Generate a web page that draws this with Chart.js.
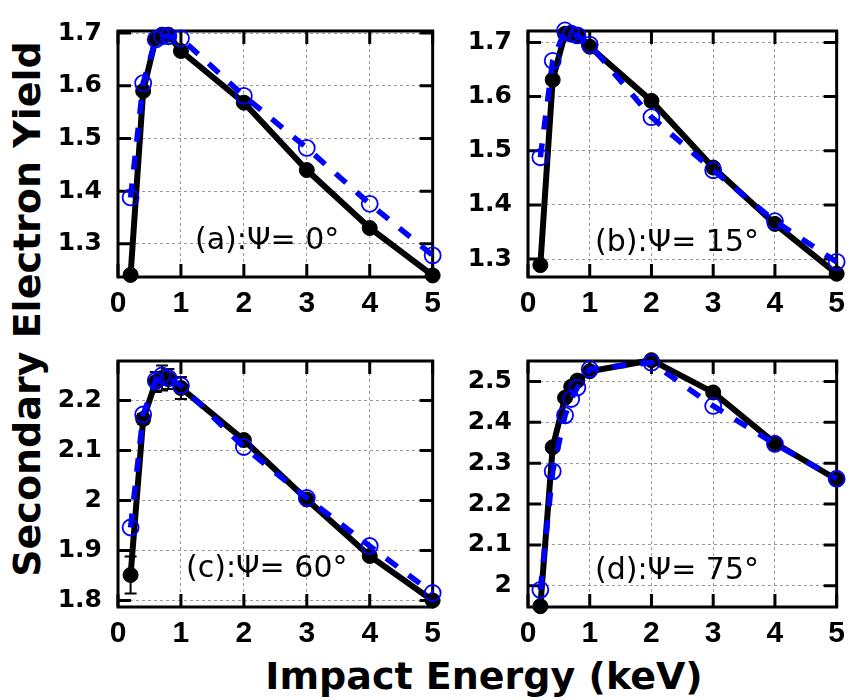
<!DOCTYPE html>
<html>
<head>
    <title>Secondary Electron Yield vs Impact Energy</title>
    <style>
        body { margin: 0; width: 854px; height: 700px; background: #fff; overflow: hidden; position: relative; font-family: "DejaVu Sans", sans-serif; }
        .panel { position: absolute; }
        #yTitle { position: absolute; left: 27px; top: 309px; transform: translate(-50%, -50%) rotate(-90deg); white-space: nowrap; font: bold 38px "DejaVu Sans"; }
        #xTitle { position: absolute; left: 184px; width: 600px; top: 657px; text-align: center; white-space: nowrap; font: bold 38px "DejaVu Sans"; line-height: 1; }
    </style>
    <script src="https://cdn.jsdelivr.net/npm/chart.js"></script>
</head>
<body>

    <canvas class="panel" id="panelA" width="400" height="320" style="left:50px; top:0px;"></canvas>
    <canvas class="panel" id="panelB" width="394" height="320" style="left:460px; top:0px;"></canvas>
    <canvas class="panel" id="panelC" width="400" height="320" style="left:50px; top:330px;"></canvas>
    <canvas class="panel" id="panelD" width="394" height="320" style="left:460px; top:330px;"></canvas>
    <div id="yTitle">Secondary Electron Yield</div>
    <div id="xTitle">Impact Energy (keV)</div>

    <script>
        // impact energies (keV), shared by every panel
        const energy = [0.2, 0.4, 0.6, 0.7, 0.8, 1, 2, 3, 4, 5];
        const xTicks = [0, 1, 2, 3, 4, 5];

        // (a) psi = 0
        const solidA  = [1.241, 1.590, 1.690, 1.697, 1.697, 1.666, 1.568, 1.440, 1.330, 1.240];
        const dashedA = [1.388, 1.605, 1.688, 1.694, 1.694, 1.690, 1.581, 1.482, 1.376, 1.278];
        const yTicksA = [1.3, 1.4, 1.5, 1.6, 1.7];

        // (b) psi = 15
        const solidB  = [1.289, 1.631, 1.716, 1.717, 1.712, 1.692, 1.592, 1.469, 1.365, 1.273];
        const dashedB = [1.488, 1.666, 1.722, 1.716, 1.713, 1.696, 1.562, 1.464, 1.370, 1.295];
        const yTicksB = [1.3, 1.4, 1.5, 1.6, 1.7];

        // (c) psi = 60, solid series has error bars
        const solidC  = [1.851, 2.163, 2.237, 2.245, 2.243, 2.225, 2.121, 2.002, 1.889, 1.800];
        const dashedC = [1.946, 2.172, 2.240, 2.250, 2.245, 2.230, 2.107, 2.005, 1.909, 1.815];
        const errorC  = [0.037, 0.010, 0.020, 0.025, 0.020, 0.022, 0, 0, 0, 0];
        const yTicksC = [1.8, 1.9, 2, 2.1, 2.2];

        // (d) psi = 75
        const solidD  = [1.950, 2.339, 2.460, 2.487, 2.502, 2.525, 2.552, 2.473, 2.349, 2.260];
        const dashedD = [1.990, 2.280, 2.417, 2.457, 2.485, 2.530, 2.546, 2.440, 2.347, 2.262];
        const yTicksD = [2, 2.1, 2.2, 2.3, 2.4, 2.5];

        const panels = [
            { canvas: 'panelA', solid: solidA, dashed: dashedA, yTicks: yTicksA, yMin: 1.237, yMax: 1.704, label: '(a):\u03A8= 0\u00B0',  dx: 77, dy: 36, padTop: 23, padRight: 13 },
            { canvas: 'panelB', solid: solidB, dashed: dashedB, yTicks: yTicksB, yMin: 1.267, yMax: 1.721, label: '(b):\u03A8= 15\u00B0', dx: 67, dy: 34, padTop: 23, padRight: 6 },
            { canvas: 'panelC', solid: solidC, dashed: dashedC, yTicks: yTicksC, yMin: 1.787, yMax: 2.279, label: '(c):\u03A8= 60\u00B0', dx: 68, dy: 38, padTop: 22, padRight: 12, errors: errorC },
            { canvas: 'panelD', solid: solidD, dashed: dashedD, yTicks: yTicksD, yMin: 1.948, yMax: 2.550, label: '(d):\u03A8= 75\u00B0', dx: 67, dy: 36, padTop: 22, padRight: 6 }
        ];

        // gnuplot-like frame: thick border, inward ticks on all sides, panel label, error bars
        const framePlugin = {
            id: 'frame',
            beforeDatasetsDraw(chart, args, opts) {
                const { ctx, chartArea: a, scales: { x, y } } = chart;
                ctx.save();
                ctx.strokeStyle = '#000';
                ctx.lineWidth = 3;
                ctx.strokeRect(a.left, a.top, a.right - a.left, a.bottom - a.top);
                const len = 13;
                ctx.beginPath();
                x.ticks.forEach(t => {
                    const px = x.getPixelForValue(t.value);
                    ctx.moveTo(px, a.bottom); ctx.lineTo(px, a.bottom - len);
                    ctx.moveTo(px, a.top); ctx.lineTo(px, a.top + len);
                });
                y.ticks.forEach(t => {
                    const py = y.getPixelForValue(t.value);
                    ctx.moveTo(a.left, py); ctx.lineTo(a.left + len, py);
                    ctx.moveTo(a.right, py); ctx.lineTo(a.right - len, py);
                });
                ctx.stroke();

                ctx.fillStyle = '#000';
                ctx.font = '30px "DejaVu Sans"';
                ctx.textAlign = 'left';
                ctx.textBaseline = 'middle';
                ctx.fillText(opts.label, a.left + opts.dx, a.bottom - opts.dy);

                if (opts.errors) {
                    const vals = chart.data.datasets[1].data;
                    ctx.lineWidth = 2;
                    ctx.beginPath();
                    opts.errors.forEach((e, i) => {
                        if (!e) return;
                        const px = x.getPixelForValue(vals[i].x);
                        const hi = y.getPixelForValue(vals[i].y + e);
                        const lo = y.getPixelForValue(vals[i].y - e);
                        ctx.moveTo(px, hi); ctx.lineTo(px, lo);
                        ctx.moveTo(px - 6, hi); ctx.lineTo(px + 6, hi);
                        ctx.moveTo(px - 6, lo); ctx.lineTo(px + 6, lo);
                    });
                    ctx.stroke();
                }
                ctx.restore();
            }
        };

        const toPoints = ys => energy.map((e, i) => ({ x: e, y: ys[i] }));

        panels.forEach(p => {
            new Chart(document.getElementById(p.canvas), {
                type: 'scatter',
                data: {
                    datasets: [
                        {
                            data: toPoints(p.dashed),
                            showLine: true,
                            borderColor: '#0000ff',
                            borderWidth: 5.5,
                            borderDash: [14, 14],
                            pointRadius: 8,
                            pointBorderWidth: 1.8,
                            pointBorderColor: '#0000ff',
                            pointBackgroundColor: 'rgba(0,0,0,0)',
                            clip: false
                        },
                        {
                            data: toPoints(p.solid),
                            showLine: true,
                            borderColor: '#000',
                            borderWidth: 6,
                            pointRadius: 7.5,
                            pointBorderWidth: 1,
                            pointBorderColor: '#000',
                            pointBackgroundColor: '#000',
                            clip: false
                        }
                    ]
                },
                options: {
                    responsive: false,
                    animation: false,
                    events: [],
                    layout: { padding: { top: p.padTop, right: p.padRight, left: 0, bottom: 0 } },
                    plugins: {
                        legend: { display: false },
                        tooltip: { enabled: false },
                        frame: { label: p.label, dx: p.dx, dy: p.dy, errors: p.errors || null }
                    },
                    scales: {
                        x: {
                            type: 'linear',
                            min: 0,
                            max: 5,
                            afterBuildTicks: s => { s.ticks = xTicks.map(v => ({ value: v })); },
                            afterFit: s => { s.height = 43; },
                            ticks: {
                                color: '#000',
                                padding: 9,
                                maxRotation: 0,
                                autoSkip: false,
                                font: { family: "'Liberation Sans Narrow', 'Liberation Sans'", weight: 'bold', size: 30 },
                                callback: v => String(v)
                            },
                            grid: { color: '#999', lineWidth: 1, drawTicks: false },
                            border: { display: false, dash: [3, 3] }
                        },
                        y: {
                            type: 'linear',
                            min: p.yMin,
                            max: p.yMax,
                            afterBuildTicks: s => { s.ticks = p.yTicks.map(v => ({ value: v })); },
                            afterFit: s => { s.width = 68; },
                            ticks: {
                                color: '#000',
                                padding: 16,
                                font: { family: 'DejaVu Sans', weight: 'bold', size: 25 },
                                callback: v => String(v)
                            },
                            grid: { color: '#999', lineWidth: 1, drawTicks: false },
                            border: { display: false, dash: [3, 3] }
                        }
                    }
                },
                plugins: [framePlugin]
            });
        });
    </script>

</body>
</html>
